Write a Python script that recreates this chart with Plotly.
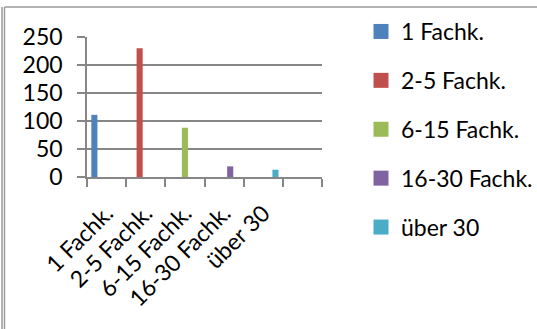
import plotly.graph_objects as go

# Number of enterprises by count of skilled workers (Fachkräfte)
categories = ["1 Fachk.", "2-5 Fachk.", "6-15 Fachk.", "16-30 Fachk.", "über 30"]
values = [111, 230, 88, 19, 13]
colors = ["#4F81BD", "#C0504D", "#9BBB59", "#8064A2", "#4BACC6"]
y_ticks = [0, 50, 100, 150, 200, 250]

W, H = 537, 329
L, R, T, B = 87, 215, 37, 152
PW, PH = W - L - R, H - T - B


def px_x(x):
    return (x - L) / PW


def px_y(y):
    return 1 + (T - y) / PH


FONT = dict(family="Lato, Calibri, sans-serif", size=23, color="#000000")
LEG_FONT = dict(family="Lato, Calibri, sans-serif", size=23, color="#000000")
GRID = "#868686"

fig = go.Figure()
for name, val, col in zip(categories, values, colors):
    fig.add_trace(go.Bar(
        x=[name], y=[val], name=name, legendgroup=name, showlegend=False,
        alignmentgroup="all", offsetgroup=name,
        marker=dict(color=col, line=dict(width=0)),
    ))
    # square legend key for the series
    fig.add_trace(go.Scatter(
        x=[None], y=[None], mode="markers", name=name, legendgroup=name,
        marker=dict(symbol="square", size=15, color=col, line=dict(width=0)),
        hoverinfo="skip",
    ))

# an empty trailing slot on the category axis
axis_categories = categories + [" "]

fig.update_layout(
    width=W, height=H,
    margin=dict(l=L, r=R, t=T, b=B, pad=0, autoexpand=False),
    paper_bgcolor="white", plot_bgcolor="white",
    font=FONT,
    barmode="group", bargap=0.22, bargroupgap=0,
    showlegend=True,
    legend=dict(
        x=px_x(361), y=px_y(10), xanchor="left", yanchor="top",
        font=LEG_FONT, tracegroupgap=16, traceorder="grouped",
        bgcolor="rgba(0,0,0,0)", borderwidth=0, maxheight=1,
    ),
    xaxis=dict(
        type="category", categoryorder="array", categoryarray=axis_categories,
        range=[-0.5, len(axis_categories) - 0.5],
        tickson="boundaries", ticks="outside", ticklen=8, tickcolor=GRID,
        tickwidth=1.5,
        showline=True, linecolor=GRID, linewidth=1.5,
        showgrid=False, tickangle=-45, tickfont=FONT, fixedrange=True,
        ticklabelstandoff=12,
    ),
    yaxis=dict(
        range=[0, 250], tickvals=y_ticks,
        ticks="outside", ticklen=8, tickcolor=GRID, tickwidth=1.5,
        showline=True, linecolor=GRID, linewidth=1.5,
        showgrid=True, gridcolor=GRID, gridwidth=1.5,
        zeroline=False, tickfont=FONT, ticklabelstandoff=10,
    ),
    shapes=[
        # outer frame: double rule on the left, single rule on top
        dict(type="line", xref="paper", yref="paper",
             x0=px_x(2), x1=px_x(2), y0=px_y(7), y1=px_y(H),
             line=dict(color="#9a9a9a", width=1.5)),
        dict(type="line", xref="paper", yref="paper",
             x0=px_x(4.5), x1=px_x(4.5), y0=px_y(7), y1=px_y(H),
             line=dict(color="#9a9a9a", width=1.5)),
        dict(type="line", xref="paper", yref="paper",
             x0=px_x(4.5), x1=px_x(W), y0=px_y(7), y1=px_y(7),
             line=dict(color="#9a9a9a", width=1.5)),
    ],
)

fig.write_html("out.html")
